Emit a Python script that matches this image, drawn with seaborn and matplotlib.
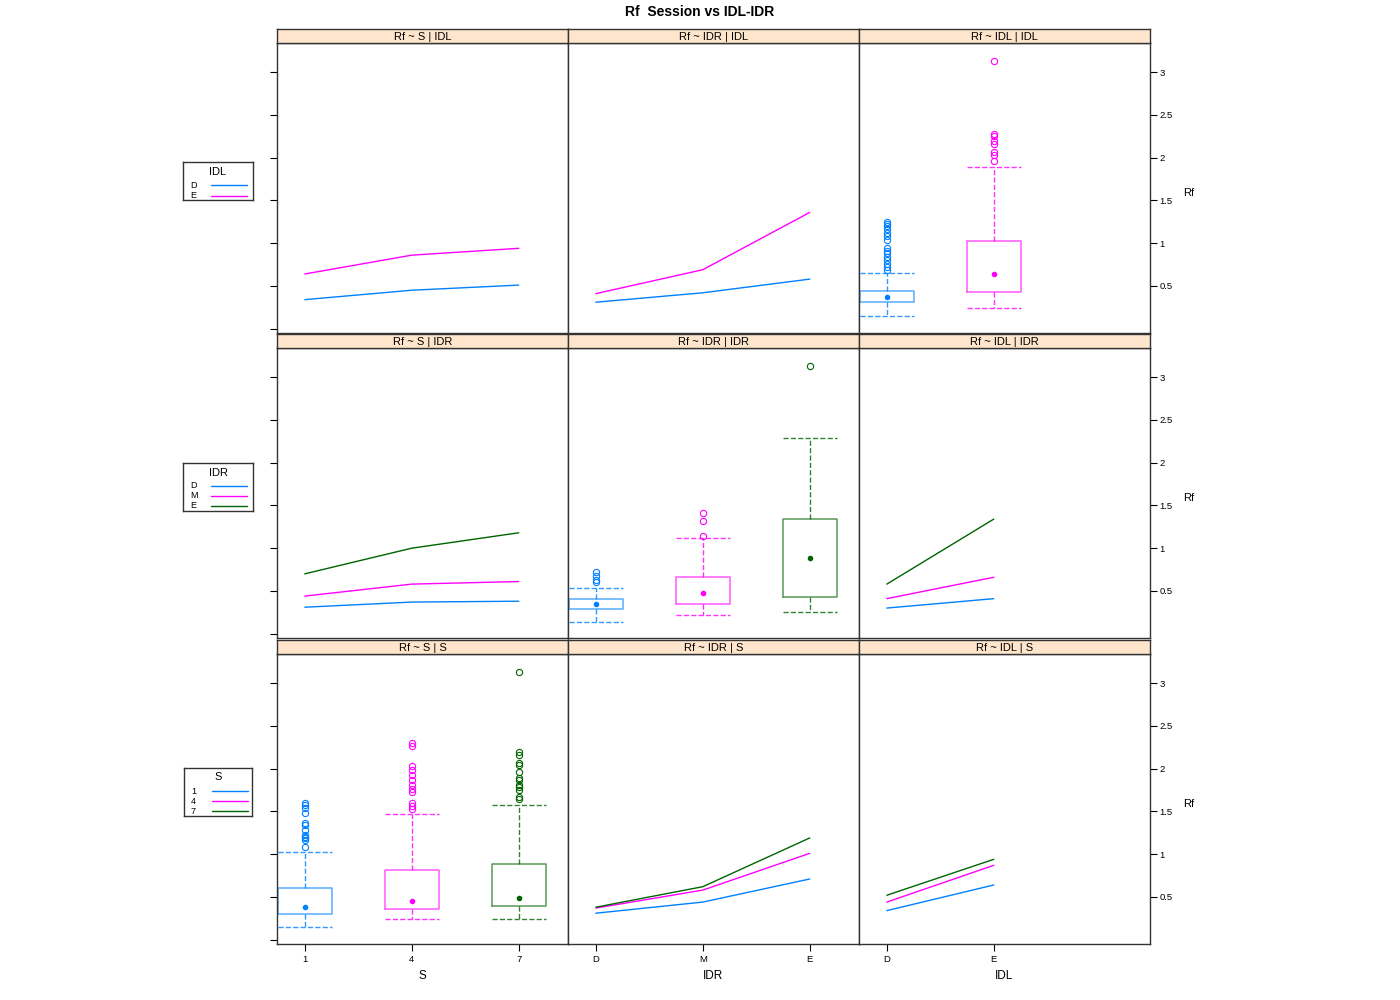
import numpy as np
import pandas as pd
import seaborn as sns
import matplotlib.pyplot as plt

# 1. settings
sns.set_theme(style='white')
plt.rcParams['font.family'] = ['Liberation Sans', 'DejaVu Sans']
plt.rcParams['text.color'] = 'black'
plt.rcParams['xtick.color'] = 'black'
plt.rcParams['ytick.color'] = 'black'

# 2. data
s_levels = ['1', '4', '7']
idr_levels = ['D', 'M', 'E']
idl_levels = ['D', 'E']
level_colors = ['#0080ff', '#ff00ff', '#006400']

# mean Rf, traces per level of the row factor
rf_s_by_idl = {'D': [0.34, 0.45, 0.51], 'E': [0.64, 0.86, 0.94]}
rf_idr_by_idl = {'D': [0.31, 0.42, 0.58], 'E': [0.41, 0.69, 1.36]}
rf_s_by_idr = {'D': [0.31, 0.37, 0.38], 'M': [0.44, 0.58, 0.61], 'E': [0.70, 1.00, 1.18]}
rf_idl_by_idr = {'D': [0.30, 0.41], 'M': [0.41, 0.66], 'E': [0.58, 1.34]}
rf_idr_by_s = {'1': [0.31, 0.44, 0.71], '4': [0.37, 0.58, 1.01], '7': [0.38, 0.62, 1.19]}
rf_idl_by_s = {'1': [0.34, 0.64], '4': [0.44, 0.87], '7': [0.52, 0.94]}

# box summaries
box_idl = {
    'D': dict(whislo=0.15, q1=0.31, med=0.37, q3=0.44, whishi=0.65,
              fliers=[0.69, 0.72, 0.76, 0.80, 0.84, 0.88, 0.91, 0.94,
                      1.04, 1.08, 1.12, 1.16, 1.20, 1.23, 1.25]),
    'E': dict(whislo=0.24, q1=0.43, med=0.64, q3=1.03, whishi=1.89,
              fliers=[1.96, 2.03, 2.07, 2.16, 2.19, 2.25, 2.28, 3.13]),
}
box_idr = {
    'D': dict(whislo=0.14, q1=0.29, med=0.35, q3=0.41, whishi=0.54,
              fliers=[0.60, 0.63, 0.68, 0.72]),
    'M': dict(whislo=0.22, q1=0.35, med=0.48, q3=0.66, whishi=1.12,
              fliers=[1.14, 1.32, 1.41]),
    'E': dict(whislo=0.25, q1=0.43, med=0.88, q3=1.34, whishi=2.29,
              fliers=[3.13]),
}
box_s = {
    '1': dict(whislo=0.15, q1=0.30, med=0.38, q3=0.60, whishi=1.03,
              fliers=[1.08, 1.17, 1.19, 1.20, 1.22, 1.28, 1.34, 1.36, 1.48, 1.54, 1.57, 1.60]),
    '4': dict(whislo=0.24, q1=0.36, med=0.45, q3=0.82, whishi=1.47,
              fliers=[1.53, 1.56, 1.60, 1.73, 1.76, 1.81, 1.87, 1.93, 1.98, 2.03, 2.26, 2.30]),
    '7': dict(whislo=0.24, q1=0.40, med=0.49, q3=0.89, whishi=1.58,
              fliers=[1.64, 1.67, 1.75, 1.79, 1.81, 1.87, 1.89, 1.96, 2.04, 2.07, 2.16, 2.19, 3.13]),
}

col_vars = ['S', 'IDR', 'IDL']
row_vars = ['IDL', 'IDR', 'S']
col_levels = [s_levels, idr_levels, idl_levels]
row_levels = [idl_levels, idr_levels, s_levels]

panels = {
    (0, 0): ('line', rf_s_by_idl), (0, 1): ('line', rf_idr_by_idl), (0, 2): ('box', box_idl),
    (1, 0): ('line', rf_s_by_idr), (1, 1): ('box', box_idr), (1, 2): ('line', rf_idl_by_idr),
    (2, 0): ('box', box_s), (2, 1): ('line', rf_idr_by_s), (2, 2): ('line', rf_idl_by_s),
}

# 3. layout in pixels
W, H = 1400, 1000
col_x = [277, 568, 859]
panel_w = 291
panel_top = [43, 348, 654]
panel_h = 290
strip_h = 14
frame = '#333333'


def fig_rect(x, y, w, h):
    return [x / W, 1 - (y + h) / H, w / W, h / H]


fig = plt.figure(figsize=(14, 10), dpi=100)

for (r, c), (kind, data) in panels.items():
    ax = fig.add_axes(fig_rect(col_x[c], panel_top[r], panel_w, panel_h))
    levels = row_levels[r]
    pal = {lv: level_colors[i] for i, lv in enumerate(levels)}
    if kind == 'line':
        rows = []
        for lv in levels:
            for i, v in enumerate(data[lv]):
                rows.append({'x': i, 'Rf': v, 'grp': lv})
        df = pd.DataFrame(rows)
        sns.lineplot(data=df, x='x', y='Rf', hue='grp', palette=pal, legend=False,
                     linewidth=1, ax=ax)
    else:
        for i, lv in enumerate(levels):
            col = level_colors[i]
            st = dict(data[lv])
            ax.bxp([st], positions=[i], widths=0.5, showfliers=True,
                   boxprops=dict(color=col, linewidth=1.1, alpha=0.65),
                   whiskerprops=dict(color=col, linestyle='--', linewidth=1, alpha=0.8),
                   capprops=dict(color=col, linestyle='--', linewidth=1, alpha=0.8),
                   capwidths=0.5,
                   medianprops=dict(linestyle='none'),
                   flierprops=dict(marker='o', markerfacecolor='none', markeredgecolor=col,
                                   markersize=4.5, markeredgewidth=0.8, linestyle='none'))
            ax.plot([i], [st['med']], 'o', color=col, markersize=3)
    ax.set_xlim(-0.26, 2.46)
    ax.set_ylim(-0.05, 3.34)
    ax.set_xlabel('')
    ax.set_ylabel('')
    for sp in ax.spines.values():
        sp.set_color(frame)
        sp.set_linewidth(1)
    ax.tick_params(direction='out', length=5, width=0.8, colors='black', labelsize=6.8,
                   left=False, right=False, bottom=False, top=False,
                   labelleft=False, labelright=False, labelbottom=False)
    ax.set_yticks([])
    ax.set_xticks([])
    if c == 0:
        ax.set_yticks(np.arange(0, 3.01, 0.5))
        ax.tick_params(axis='y', left=True)
    if c == 2:
        ax.set_yticks(np.arange(0.5, 3.01, 0.5))
        ax.set_yticklabels(['0.5', '1', '1.5', '2', '2.5', '3'])
        ax.tick_params(axis='y', right=True, labelright=True, pad=2)
        fig.text((col_x[2] + panel_w + 33) / W, 1 - (panel_top[r] + panel_h / 2 + 5) / H, 'Rf',
                 fontsize=8, ha='left', va='center')
    if r == 2:
        ax.set_xticks(range(len(col_levels[c])))
        ax.set_xticklabels(col_levels[c])
        ax.tick_params(axis='x', bottom=True, labelbottom=True, pad=3)
        fig.text((col_x[c] + panel_w / 2) / W, 1 - 976 / H, col_vars[c],
                 fontsize=8.5, ha='center', va='center')

    # strip
    sx = fig.add_axes(fig_rect(col_x[c], panel_top[r] - strip_h, panel_w, strip_h))
    sx.set_facecolor('#ffe5cc')
    sx.set_xticks([])
    sx.set_yticks([])
    for sp in sx.spines.values():
        sp.set_color(frame)
        sp.set_linewidth(1)
    sx.text(0.5, 0.45, f'Rf ~ {col_vars[c]} | {row_vars[r]}', transform=sx.transAxes,
            ha='center', va='center', fontsize=8)

# 4. legends on the left
legend_boxes = [(183, 162, 70, 38, 10, [23, 34]),
                (183, 463, 70, 48, 10, [23, 33, 43]),
                (184, 768, 68, 48, 9, [23, 33, 43])]
for r, (lx, ly, lw, lh, ty, ys) in enumerate(legend_boxes):
    lax = fig.add_axes(fig_rect(lx, ly, lw, lh))
    lax.set_xlim(0, lw)
    lax.set_ylim(lh, 0)
    lax.set_xticks([])
    lax.set_yticks([])
    lax.set_facecolor('white')
    for sp in lax.spines.values():
        sp.set_color(frame)
        sp.set_linewidth(1)
    lax.text(lw / 2, ty, row_vars[r], ha='center', va='center', fontsize=8)
    for i, lv in enumerate(row_levels[r]):
        lax.text(7, ys[i], lv, ha='left', va='center', fontsize=6.5)
        lax.plot([28, 64], [ys[i], ys[i]], color=level_colors[i], linewidth=1)

fig.text(0.5, 1 - 12 / H, 'Rf  Session vs IDL-IDR', ha='center', va='center',
         fontsize=10, fontweight='bold')

fig.savefig('out.png', dpi=100, facecolor='white')
